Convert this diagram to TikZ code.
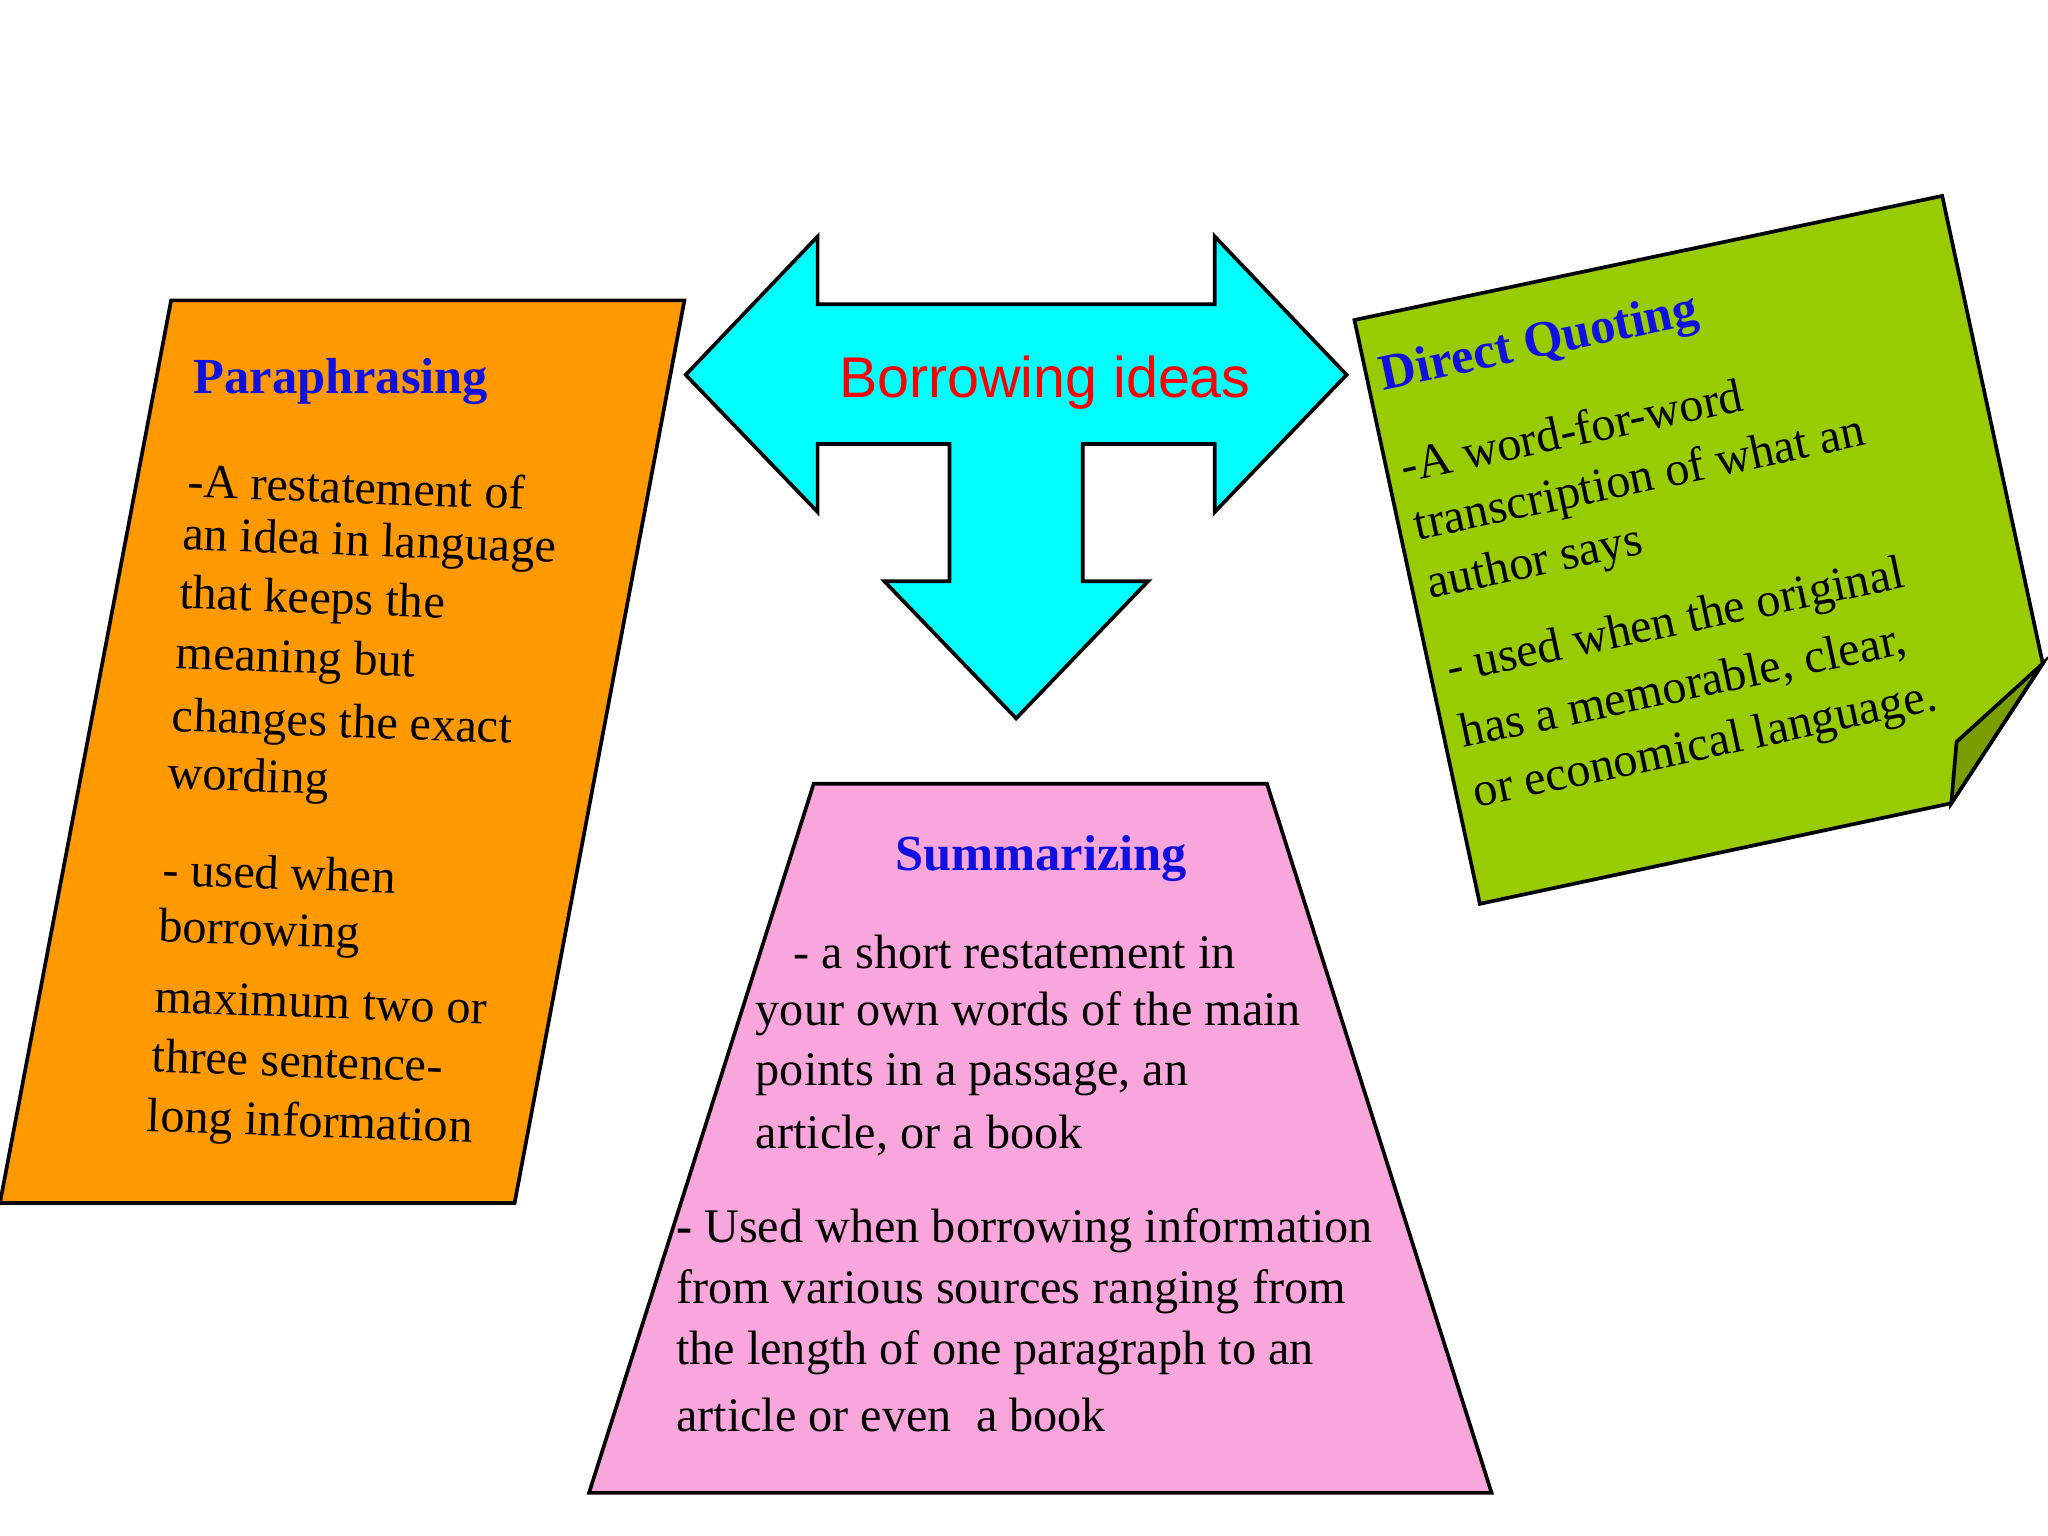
\documentclass[tikz,border=0pt]{standalone}
\usepackage{fontspec}
\setmainfont{Liberation Serif}
\newfontfamily\sansf{Liberation Sans}
\definecolor{orangef}{HTML}{FF9900}
\definecolor{pinkf}{HTML}{F9A6DC}
\definecolor{greenf}{HTML}{99CC00}
\definecolor{greend}{HTML}{7A9E00}
\definecolor{cyanf}{HTML}{00FFFF}
\definecolor{titleblue}{HTML}{1010E0}
\begin{document}
\begin{tikzpicture}[x=0.01cm,y=-0.01cm,
  shp/.style={draw=black,line width=0.8pt,line join=miter},
  body/.style={font=\fontsize{10.5}{13}\selectfont,anchor=west,inner sep=0pt},
  ttl/.style={font=\fontsize{11}{13}\selectfont\bfseries,text=titleblue,inner sep=0pt}]
\useasboundingbox (0,0) rectangle (1568,1176);
% orange
\draw[shp,fill=orangef] (131,230) -- (524,230) -- (394,921) -- (0,921) -- cycle;
% cyan arrow
\draw[shp,fill=cyanf] (525,287) -- (626,181) -- (626,233) -- (930,233) -- (930,181) -- (1031,287)
  -- (930,392) -- (930,340) -- (829,340) -- (829,445) -- (879,445) -- (778,550) -- (677,445)
  -- (727,445) -- (727,340) -- (626,340) -- (626,392) -- cycle;
\node[font=\sansf\fontsize{12.5}{15}\selectfont,text=red] (bi) at (800,293) {Borrowing ideas};
% pink
\draw[shp,fill=pinkf] (623,600) -- (970,600) -- (1142,1143) -- (451,1143) -- cycle;
% green
\draw[shp,fill=greenf] (1037,245) -- (1487,150) -- (1564,508) -- (1494,615) -- (1133,692) -- cycle;
\draw[shp,fill=greend] (1494,615) -- (1498,568) -- (1564,508) -- cycle;
% orange text
\begin{scope}[rotate around={-3:(140,300)}]
\node[ttl,anchor=west] (pt) at (147,292) {Paraphrasing};
\end{scope}
\foreach \x/\y/\t in {143/368/{-A restatement of},139/412/{an idea in language},137/457/{that keeps the},
 134/503/{meaning but},131/551/{changes the exact},128/595/{wording},124/665/{- used when},
 121/712/{borrowing},118/763/{maximum two or},116/808/{three sentence-},112/857/{long information}}
 \node[body,rotate=-2] at (\x,\y) {\t};
% pink text
\node[ttl] (st) at (797,657) {Summarizing};
\foreach \x/\y/\t in {607/729/{- a short restatement in},578/776/{your own words of the main},
 578/823/{points in a passage, an},578/869/{article, or a book},517/942/{\textbf{-} Used when borrowing information},
 517/989/{from various sources ranging from},517/1036/{the length of one paragraph to an},517/1083/{article or even\ \ a book}}
 \node[body] at (\x,\y) {\t};
% green text
\node[ttl,anchor=west,rotate=12] (dq) at (1057,290) {Direct Quoting};
\foreach \x/\y/\t in {1072/357/{-A word-for-word},1083/405/{transcription of what an},1093/450/{author says},
 1108/515/{- used when the original},1118/563/{has a memorable, clear,},1128/610/{or economical language.}}
 \node[body,rotate=12] at (\x,\y) {\t};
\end{tikzpicture}
\end{document}
